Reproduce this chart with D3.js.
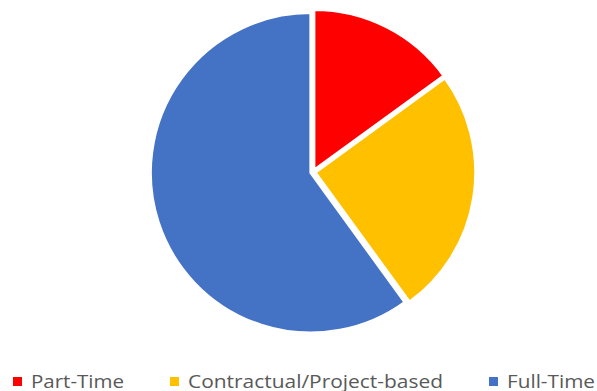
<!DOCTYPE html>
<html><head><meta charset="utf-8">
<script src="https://cdn.jsdelivr.net/npm/d3@7"></script>
<style>body{margin:0;background:#fff;}svg{display:block;}</style>
</head><body>
<svg id="c" width="597" height="391"></svg>
<script>
const categories = ["Part-Time", "Contractual/Project-based", "Full-Time"];
const values = [15, 25, 60];
const colors = ["#FF0000", "#FFC000", "#4472C4"];

const svg = d3.select("#c");
const cx = 313, cy = 172, r = 160, explode = 2.5;
const pie = d3.pie().sort(null).value(d => d)(values);
const arc = d3.arc().innerRadius(0).outerRadius(r);
const g = svg.append("g").attr("transform", `translate(${cx},${cy})`);
g.selectAll("path").data(pie).join("path")
  .attr("d", arc)
  .attr("fill", (d, i) => colors[i])
  .attr("stroke", "#fff").attr("stroke-width", 2.5).attr("stroke-linejoin", "round")
  .attr("transform", d => {
    const a = (d.startAngle + d.endAngle) / 2;
    return `translate(${Math.sin(a) * explode},${-Math.cos(a) * explode})`;
  });

const legX = [13, 170, 489];
const textW = [93, 255, 88];
const leg = svg.append("g");
categories.forEach((c, i) => {
  leg.append("rect").attr("x", legX[i]).attr("y", 377).attr("width", 9).attr("height", 9).attr("fill", colors[i]);
  leg.append("text").attr("x", legX[i] + 18).attr("y", 387.5)
    .attr("font-family", "'Open Sans', sans-serif").attr("font-size", 18.5).attr("fill", "#595959")
    .attr("textLength", textW[i]).attr("lengthAdjust", "spacingAndGlyphs")
    .text(c);
});
</script>
</body></html>
